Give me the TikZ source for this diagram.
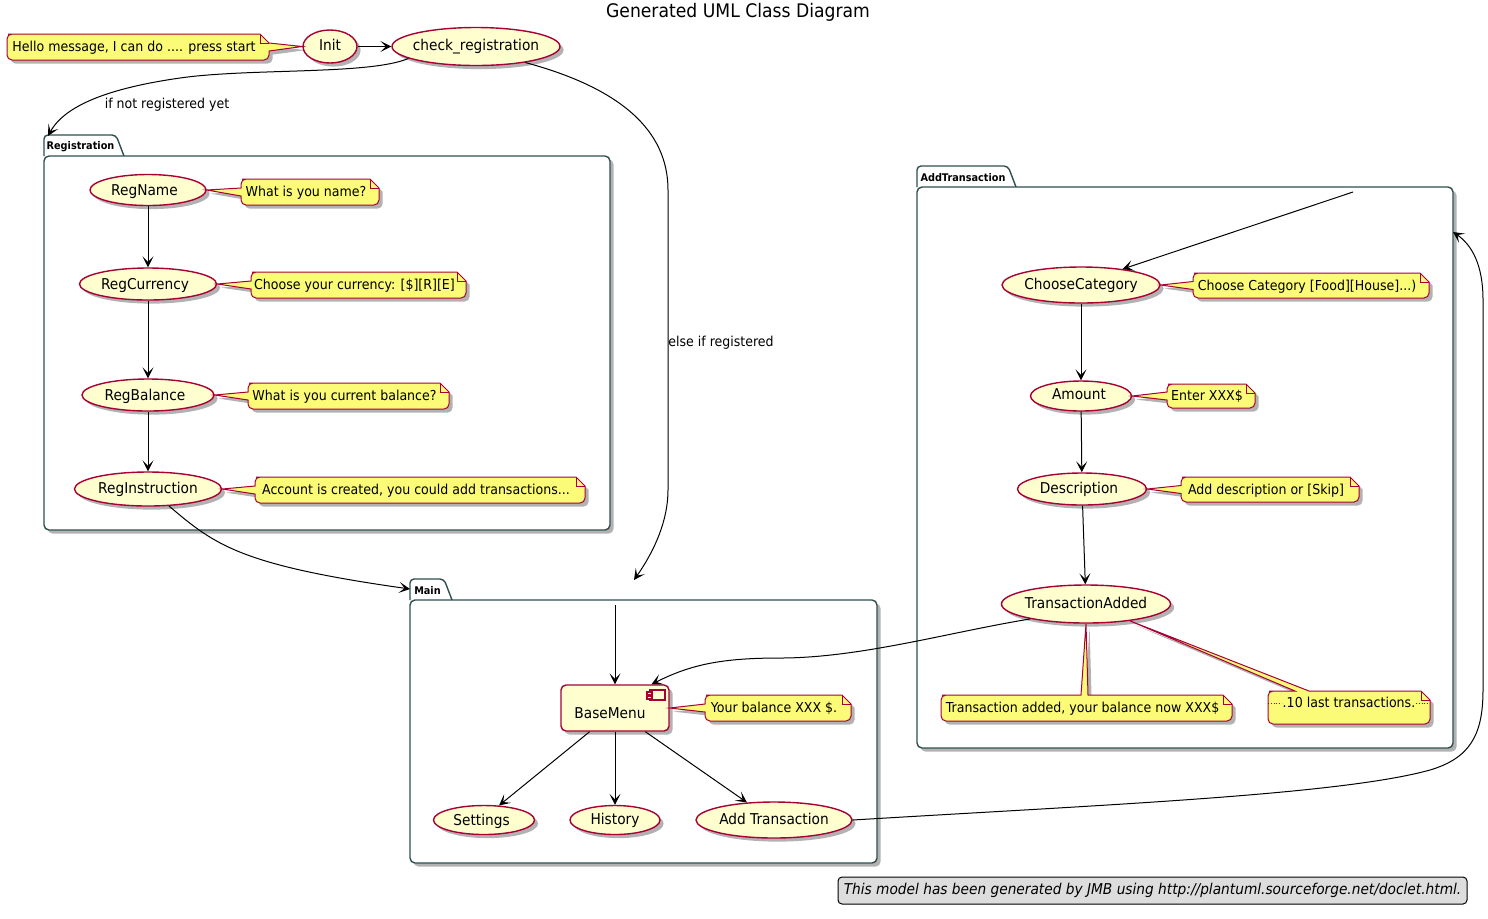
\documentclass[tikz,border=0pt]{standalone}
\usepackage{fontspec}
\setmainfont[FakeStretch=0.92]{DejaVu Sans}
\usetikzlibrary{arrows.meta,calc,shadows,shapes.geometric}
\definecolor{statefill}{HTML}{FEFECE}
\definecolor{umlred}{HTML}{A80036}
\definecolor{notefill}{HTML}{FBFB77}
\definecolor{packline}{HTML}{2F4F4F}
\definecolor{footfill}{HTML}{DDDDDD}
\tikzset{
	softshadow/.style={drop shadow={shadow xshift=1.8pt,shadow yshift=-1.8pt,fill=black,opacity=0.3}},
	statebox/.style={ellipse,draw=umlred,fill=statefill,line width=0.7pt,inner sep=0pt,softshadow,font=\fontsize{7.46}{9}\selectfont},
	menubox/.style={rectangle,rounded corners=2.5pt,draw=umlred,fill=statefill,line width=0.7pt,inner sep=0pt,softshadow},
	notebox/.style={draw=umlred,fill=notefill,line width=0.5pt,softshadow},
	notetext/.style={inner sep=0pt,font=\fontsize{6.85}{8}\selectfont},
	packbody/.style={rectangle,rounded corners=2.5pt,draw=packline,fill=white,line width=0.7pt,inner sep=0pt,softshadow},
	packtab/.style={draw=packline,fill=white,line width=0.7pt,rounded corners=2pt},
	packtext/.style={inner sep=0pt,font=\fontsize{5.28}{7}\selectfont\bfseries},
	linktext/.style={inner sep=0pt,font=\fontsize{6.83}{8}\selectfont},
	link/.style={line width=0.5pt,-{Stealth[length=5.5pt,width=5.5pt,inset=2.8pt]}},
}
\def\statenode(#1)(#2,#3)(#4,#5)#6{\node[statebox,minimum width=#4*0.5pt,minimum height=#5*0.5pt] (#1) at (#2,#3) {\makebox[0pt]{\vphantom{Ag}#6}};}
\def\nudge(#1,#2)#3{\hspace*{#1pt}\raisebox{#2pt}[\height][\depth]{#3}}
\def\packnode(#1)(#2,#3,#4,#5)(#6)#7{
	\draw[packtab] (#2,#3+21) -- (#2,#3) -- (#6,#3) [sharp corners] -- (#6+8,#3+21);
	\node[packbody,minimum width=(#4-#2)*0.5pt,minimum height=(#5-#3-21)*0.5pt] (#1) at ({(#2+#4)/2},{(#3+21+#5)/2}) {};
	\node[packtext] (#1tab) at ({(#2+#6+1)/2},#3+11.5) {#7};
}
\def\sidenote(#1)(#2,#3,#4,#5)(#6)#7{
	\draw[notebox] (#2+6,#3) -- (#4-9,#3) -- (#4,#3+9) [rounded corners=2.5pt] -- (#4,#5) -- (#2,#5) [sharp corners] -- (#2,{(#3+#5)/2+4}) -- (#6) -- (#2,{(#3+#5)/2-4}) [rounded corners=2.5pt] -- (#2,#3) -- cycle;
	\draw[draw=umlred,line width=0.5pt] (#4-9,#3) -- (#4-9,#3+9) -- (#4,#3+9);
	\node[notetext] (#1) at ({(#2+#4)/2-4},{(#3+#5)/2+1}) {\vphantom{Ag}#7};
}
\def\rightnote(#1)(#2,#3,#4,#5)(#6)#7{
	\draw[notebox] (#2+6,#3) -- (#4-9,#3) -- (#4,#3+9) -- (#6) -- (#4,#3+17) [rounded corners=2.5pt] -- (#4,#5) -- (#2,#5) -- (#2,#3) -- cycle;
	\draw[draw=umlred,line width=0.5pt] (#4-9,#3) -- (#4-9,#3+9) -- (#4,#3+9);
	\node[notetext] (#1) at ({(#2+#4)/2-4},{(#3+#5)/2+1}) {\vphantom{Ag}#7};
}
\def\topnote(#1)(#2,#3,#4,#5)(#6,#7)(#8)#9{
	\draw[notebox] (#2+6,#3) [sharp corners] -- (#6,#3) -- (#8) -- (#7,#3) -- (#4-9,#3) -- (#4,#3+9) [rounded corners=2.5pt] -- (#4,#5) -- (#2,#5) -- (#2,#3) -- cycle;
	\draw[draw=umlred,line width=0.5pt] (#4-9,#3) -- (#4-9,#3+9) -- (#4,#3+9);
	\node[notetext] (#1) at ({(#2+#4)/2-4},{(#3+#5)/2+1}) {\vphantom{Ag}#9};
}

\begin{document}
\begin{tikzpicture}[x=0.5pt,y=-0.5pt]
	%%%%% START %%%%%
	\useasboundingbox (0,0) rectangle (1488,918);

	\node[inner sep=0pt,font=\fontsize{9.35}{11}\selectfont] (title) at (738,12) {Generated UML Class Diagram};

	% packages
	\packnode(Registration)(44,135,610,530)(116){Registration}
	\packnode(Main)(410,579,877,863)(444){Main}
	\packnode(AddTransaction)(917,166,1453,748)(1008){AddTransaction}

	% outer states
	\statenode(Init)(330,46.5)(54,33){Init}
	\statenode(check_registration)(476,46.5)(168,38){check\_registration}

	% registration
	\statenode(RegName)(148,190)(116,31){\nudge(-3.5,-1){RegName}}
	\statenode(RegCurrency)(148,284)(137,32){\nudge(-3,-1){RegCurrency}}
	\statenode(RegBalance)(148,395)(132,32){\nudge(-3,-0.5){RegBalance}}
	\statenode(RegInstruction)(148,489)(147,34){RegInstruction}

	% main
	\node[menubox,minimum width=54pt,minimum height=23pt] (BaseMenu) at (615,708) {};
	\node[inner sep=0pt,font=\fontsize{7.46}{9}\selectfont] (BaseMenutext) at (610,713) {BaseMenu};
	\draw[draw=umlred,line width=0.6pt,fill=statefill] (650,690) rectangle (665,700);
	\draw[draw=umlred,line width=0.6pt,fill=statefill] (647,692) rectangle (652,695);
	\draw[draw=umlred,line width=0.6pt,fill=statefill] (647,696) rectangle (652,699);
	\statenode(Settings)(484,820)(101,29){\nudge(-2.5,-0.5){Settings}}
	\statenode(History)(615,820)(90,29){History}
	\statenode(AddTransactionState)(774,820)(156,36){Add Transaction}

	% add transaction
	\statenode(ChooseCategory)(1081,285)(158,36){ChooseCategory}
	\statenode(Amount)(1081,396)(101,30){\nudge(-2,0){Amount}}
	\statenode(Description)(1082,489)(129,32){\nudge(-3,0){Description}}
	\statenode(TransactionAdded)(1086,604)(169,38){TransactionAdded}

	% notes
	\rightnote(noteInit)(7,34,269,60)(Init.west){Hello message, I can do .... press start}
	\sidenote(noteRegName)(241,179,379,205)(RegName.east){What is you name?}
	\sidenote(noteRegCurrency)(251,272,466,298)(RegCurrency.east){Choose your currency: [\$][R][E]}
	\sidenote(noteRegBalance)(248,383,449,409)(RegBalance.east){What is you current balance?}
	\sidenote(noteRegInstruction)(255,477,585,503)(RegInstruction.east){Account is created, you could add transactions...}
	\sidenote(noteBaseMenu)(705,695,851,721)(BaseMenu.east){Your balance XXX \$.}
	\sidenote(noteChooseCategory)(1193,273,1429,298)(ChooseCategory.east){Choose Category [Food][House]...)}
	\sidenote(noteAmount)(1167,384,1255,408)(Amount.east){Enter XXX\$}
	\sidenote(noteDescription)(1181,477,1359,502)(Description.east){Add description or [Skip]}
	\topnote(noteAdded)(941,695,1232,721)(1081,1088)(TransactionAdded.south){Transaction added, your balance now XXX\$}
	\topnote(noteLast)(1268,691,1430,724)(1295,1309)(TransactionAdded.339){\nudge(4,2.2){.10 last transactions.}}
	\draw[draw=umlred,line width=0.4pt,densely dotted] (1268,703) -- (1282,703);
	\draw[draw=umlred,line width=0.4pt,densely dotted] (1416,703) -- (1430,703);

	% free ends of the links
	\coordinate (regentry) at (48,136);
	\coordinate (mainentry) at (410,589);
	\coordinate (mainout) at (634,580);
	\coordinate (mainstart) at (615,605);
	\coordinate (addstart) at (1353,192);
	\coordinate (addentry) at (1453,232);

	% links
	\draw[link] (Init.east) -- (check_registration.west);
	\draw[link] (check_registration.190) .. controls (370,75) and (250,68) .. (180,78) .. controls (110,88) and (65,105) .. (regentry);
	\draw[link] (check_registration.342) .. controls (620,88) and (668,130) .. (668,190) -- (668,490) .. controls (668,520) and (655,550) .. (mainout);
	\draw[link] (RegName) -- (RegCurrency);
	\draw[link] (RegCurrency) -- (RegBalance);
	\draw[link] (RegBalance) -- (RegInstruction);
	\draw[link] (RegInstruction.321) .. controls (215,545) and (240,565) .. (mainentry);
	\draw[link] (mainstart) -- (BaseMenu.north);
	\draw[link] (BaseMenu.223) -- (Settings.44);
	\draw[link] (BaseMenu.south) -- (History.north);
	\draw[link] (BaseMenu.322) -- (AddTransactionState.147);
	\draw[link] (AddTransactionState.east) .. controls (1100,805) and (1340,795) .. (1430,770) .. controls (1470,758) and (1483,735) .. (1483,690) -- (1483,300) .. controls (1483,265) and (1472,245) .. (addentry);
	\draw[link] (addstart) -- (ChooseCategory.21);
	\draw[link] (ChooseCategory) -- (Amount);
	\draw[link] (Amount) -- (Description);
	\draw[link] (Description) -- (TransactionAdded);
	\draw[link] (TransactionAdded.195) .. controls (950,632) and (860,658) .. (780,658) .. controls (720,658) and (690,665) .. (BaseMenu.33);

	% labels
	\node[linktext] (labelnotreg) at (167,105) {if not registered yet};
	\node[linktext] (labelreg) at (721,343) {else if registered};

	\node[rectangle,rounded corners=2pt,draw=black,fill=footfill,line width=0.5pt,inner sep=0pt,minimum width=314.5pt,minimum height=13.5pt] (footer) at (1152.5,890.5) {\makebox[0pt]{\fontsize{7.46}{8}\selectfont\itshape This model has been generated by JMB using http://plantuml.sourceforge.net/doclet.html.}};
	%%%%% END %%%%%
\end{tikzpicture}
\end{document}
